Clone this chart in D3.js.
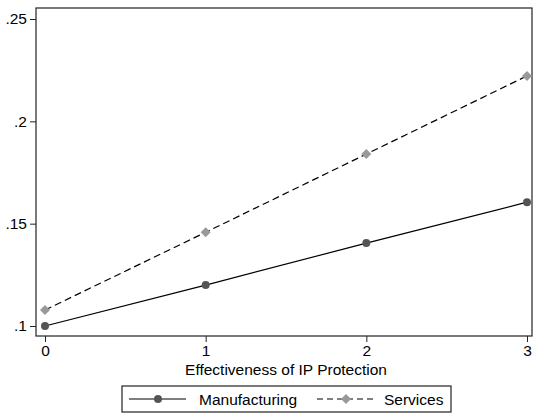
<!DOCTYPE html>
<html><head><meta charset="utf-8">
<script src="https://cdn.jsdelivr.net/npm/d3@7/dist/d3.min.js"></script>
<style>body{margin:0;background:#fff}svg{display:block}text{font-family:"Liberation Sans",Arial,sans-serif;fill:#000}</style>
</head><body>
<script>
const xValues = [0, 1, 2, 3];
const manufacturing = [0.1, 0.120, 0.1405, 0.1605];
const services = [0.1078, 0.1458, 0.1840, 0.2222];
const yTicks = [0.1, 0.15, 0.2, 0.25];
const yTickLabels = [".1", ".15", ".2", ".25"];
const seriesNames = ["Manufacturing", "Services"];
const xTitle = "Effectiveness of IP Protection";

const W = 537, H = 415, FS = "15.5px", TFS = "15.5px";
const svg = d3.select("body").append("svg").attr("width", W).attr("height", H);
const frame = {l: 36, t: 8, r: 532, b: 336};
const x = d3.scaleLinear().domain([0, 3]).range([45, 527]);
const y = d3.scaleLinear().domain([0.1, 0.25]).range([326, 19]);

svg.append("rect").attr("x", frame.l).attr("y", frame.t).attr("width", frame.r - frame.l).attr("height", frame.b - frame.t)
  .attr("fill", "none").attr("stroke", "#222").attr("stroke-width", 1.2);

const yAxis = svg.append("g").attr("transform", `translate(${frame.l},0)`)
  .call(d3.axisLeft(y).tickValues(yTicks).tickFormat((d, i) => yTickLabels[i]).tickSize(6).tickPadding(3));
yAxis.select(".domain").remove();
const xAxis = svg.append("g").attr("transform", `translate(0,${frame.b})`)
  .call(d3.axisBottom(x).tickValues(xValues).tickFormat(d3.format("d")).tickSize(6).tickPadding(3));
xAxis.select(".domain").remove();
svg.selectAll(".tick line").attr("stroke", "#222");
svg.selectAll(".tick text").style("font-size", TFS).attr("fill", "#000");

svg.append("text").attr("x", (45 + 527) / 2).attr("y", 375).attr("text-anchor", "middle").style("font-size", FS).text(xTitle);

const line = d3.line().x((d, i) => x(xValues[i])).y(d => y(d));
svg.append("path").datum(manufacturing).attr("d", line).attr("fill", "none").attr("stroke", "#000").attr("stroke-width", 1.2);
svg.append("path").datum(services).attr("d", line).attr("fill", "none").attr("stroke", "#000").attr("stroke-width", 1.2).attr("stroke-dasharray", "7,4");

svg.selectAll("circle.m").data(manufacturing).enter().append("circle")
  .attr("cx", (d, i) => x(xValues[i])).attr("cy", d => y(d)).attr("r", 4).attr("fill", "#555");
svg.selectAll("path.s").data(services).enter().append("path")
  .attr("d", d3.symbol().type(d3.symbolSquare).size(50))
  .attr("transform", (d, i) => `translate(${x(xValues[i])},${y(d)}) rotate(45)`)
  .attr("fill", "#999");

// legend
const lg = svg.append("g");
lg.append("rect").attr("x", 122).attr("y", 386).attr("width", 329).attr("height", 26).attr("fill", "#fff").attr("stroke", "#222").attr("stroke-width", 1.2);
lg.append("line").attr("x1", 129).attr("x2", 186).attr("y1", 399).attr("y2", 399).attr("stroke", "#000").attr("stroke-width", 1.2);
lg.append("circle").attr("cx", 158).attr("cy", 399).attr("r", 4).attr("fill", "#555");
lg.append("text").attr("x", 199).attr("y", 404.5).style("font-size", FS).text(seriesNames[0]);
lg.append("line").attr("x1", 317).attr("x2", 375).attr("y1", 399).attr("y2", 399).attr("stroke", "#000").attr("stroke-width", 1.2).attr("stroke-dasharray", "6,4");
lg.append("path").attr("d", d3.symbol().type(d3.symbolSquare).size(50)).attr("transform", "translate(346,399) rotate(45)").attr("fill", "#999");
lg.append("text").attr("x", 384).attr("y", 404.5).style("font-size", FS).text(seriesNames[1]);
</script>
</body></html>
